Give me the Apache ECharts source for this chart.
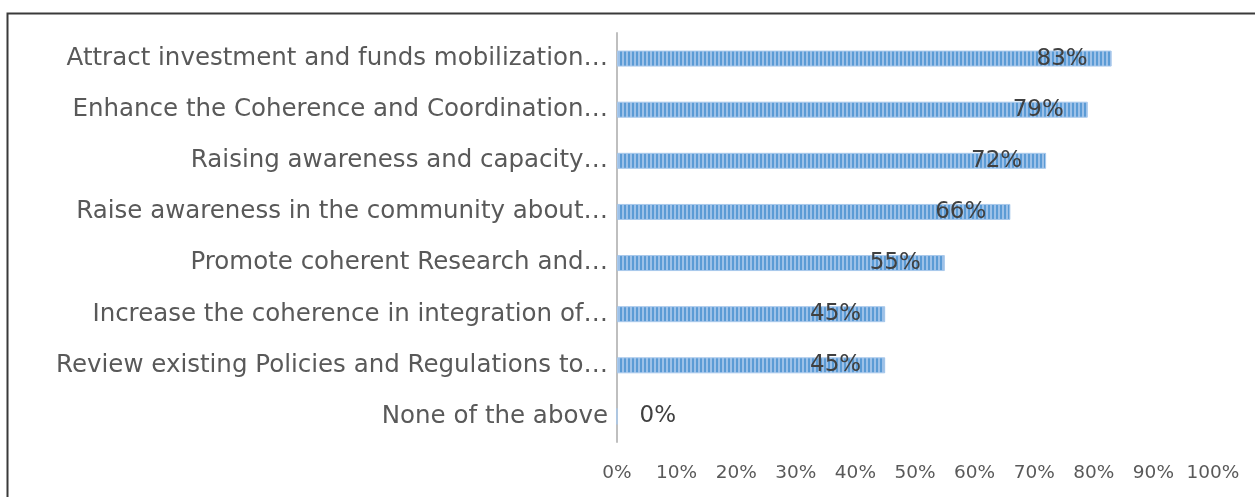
<!DOCTYPE html>
<html>
<head>
<meta charset="utf-8">
<script src="https://cdn.jsdelivr.net/npm/echarts@6/dist/echarts.min.js"></script>
<style>
  html, body { margin: 0; padding: 0; background: #fff; }
  #chart { width: 1255px; height: 497px; }
</style>
</head>
<body>
<div id="chart"></div>
<script>
// categories top to bottom, as shown in the picture
const categories = [
  'Attract investment and funds mobilization…',
  'Enhance the Coherence and Coordination…',
  'Raising awareness and capacity…',
  'Raise awareness in the community about…',
  'Promote coherent Research and…',
  'Increase the coherence in integration of…',
  'Review existing Policies and Regulations to…',
  'None of the above'
];
const shares = [83, 79, 72, 66, 55, 45, 45, 0];
const tickValues = [0, 10, 20, 30, 40, 50, 60, 70, 80, 90, 100];

// striped fill, like the excel pattern
function stripes() {
  const c = document.createElement('canvas');
  c.width = 4;
  c.height = 4;
  const ctx = c.getContext('2d');
  ctx.fillStyle = '#9dc1e8';
  ctx.fillRect(0, 0, 4, 4);
  ctx.fillStyle = '#5b9bd5';
  ctx.fillRect(0, 0, 2, 4);
  return c;
}

const chart = echarts.init(document.getElementById('chart'));

// category axis is inverted so the first item sits on top
const barData = shares.map(v => {
  const item = { value: v };
  if (v === 0) {
    item.label = { position: 'right', distance: 22 };
  }
  return item;
});

chart.setOption({
  animation: false,
  textStyle: { fontFamily: 'DejaVu Sans' },
  grid: { left: 617, right: 42, top: 33, bottom: 55, containLabel: false },
  graphic: [{
    type: 'polyline',
    shape: { points: [[7.5, 497], [7.5, 13.5], [1255, 13.5]] },
    style: { stroke: '#3a3a3a', lineWidth: 2, fill: null }
  }],
  xAxis: {
    type: 'value',
    min: 0,
    max: 100,
    interval: 10,
    axisLine: { show: false },
    axisTick: { show: false },
    splitLine: { show: false },
    axisLabel: {
      color: '#595959',
      fontSize: 18.5,
      margin: 22,
      fontFamily: 'DejaVu Sans, sans-serif',
      formatter: v => tickValues.includes(v) ? v + '%' : ''
    }
  },
  yAxis: {
    type: 'category',
    inverse: true,
    data: categories,
    axisLine: { show: true, lineStyle: { color: '#bfbfbf', width: 2 } },
    axisTick: { show: false },
    axisLabel: {
      color: '#595959',
      fontSize: 24.5,
      margin: 9,
      padding: [6, 0, 0, 0],
      fontFamily: 'DejaVu Sans, sans-serif'
    }
  },
  series: [{
    type: 'bar',
    data: barData,
    barWidth: 16,
    itemStyle: {
      color: { image: stripes(), repeat: 'repeat' },
      borderColor: '#a9c9ec',
      borderWidth: 1
    },
    label: {
      show: true,
      position: 'insideRight',
      distance: 24,
      color: '#404040',
      fontSize: 23,
      fontFamily: 'DejaVu Sans, sans-serif',
      formatter: p => p.value + '%'
    }
  }]
});
</script>
</body>
</html>
